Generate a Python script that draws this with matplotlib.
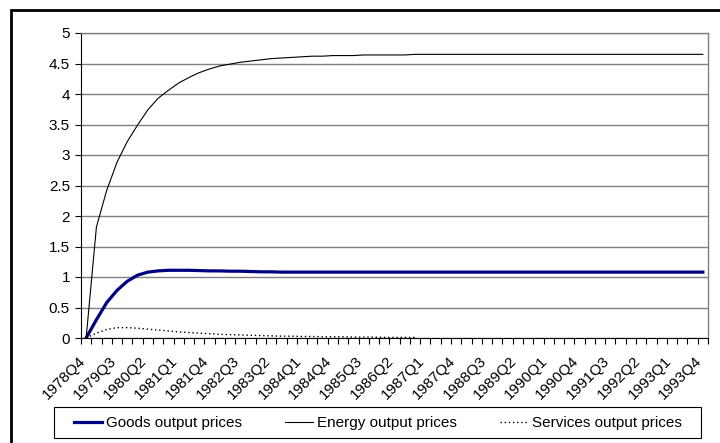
import matplotlib
matplotlib.use('Agg')
import matplotlib.pyplot as plt
import matplotlib.transforms as mtransforms
import numpy as np
from matplotlib.patches import Rectangle

plt.rcParams['font.family'] = ['Liberation Sans', 'DejaVu Sans']

# quarters 1978Q4 .. 1993Q4
quarters = ['1978Q4'] + [f'{y}Q{q}' for y in range(1979, 1994) for q in range(1, 5)]

goods = [0.0, 0.30, 0.58, 0.78, 0.93, 1.03, 1.08, 1.10, 1.11, 1.11,
         1.11, 1.105, 1.10, 1.10, 1.095, 1.095, 1.09, 1.085, 1.085, 1.08] + [1.08] * 41

energy = [0.0, 1.82, 2.42, 2.88, 3.22, 3.49, 3.74, 3.93, 4.06, 4.18,
          4.27, 4.35, 4.41, 4.46, 4.49, 4.52, 4.54, 4.56, 4.58, 4.59,
          4.60, 4.61, 4.62, 4.62, 4.63, 4.63, 4.63, 4.64, 4.64, 4.64,
          4.64, 4.64, 4.65, 4.65] + [4.65] * 27

services = [0.0, 0.08, 0.14, 0.17, 0.17, 0.16, 0.145, 0.13, 0.115, 0.10,
            0.09, 0.08, 0.07, 0.06, 0.055, 0.05, 0.045, 0.04, 0.035, 0.03,
            0.03, 0.025, 0.025, 0.02, 0.02, 0.02, 0.015, 0.015, 0.015, 0.01,
            0.01, 0.01, 0.01] + [np.nan] * 28

x = np.arange(len(quarters))

fig = plt.figure(figsize=(7.2, 4.43), dpi=100)
ax = fig.add_axes([81/720, 1 - 338/443, 627/720, 305/443])

l1, = ax.plot(x, goods, color='#000080', lw=2.3, label='Goods output prices')
l2, = ax.plot(x, energy, color='black', lw=0.8, label='Energy output prices')
l3, = ax.plot(x, services, color='black', lw=1.0, linestyle=(0, (1, 2)),
              label='Services output prices')

ax.set_xlim(-0.5, len(quarters) - 0.5)
ax.set_ylim(0, 5)
ax.set_yticks(np.arange(0, 5.01, 0.5))
ax.set_yticklabels(['0', '0.5', '1', '1.5', '2', '2.5', '3', '3.5', '4', '4.5', '5'])
ax.yaxis.grid(True, color='#808080', lw=1.0)
ax.set_axisbelow(True)

ax.set_xticks(x[::3])
ax.set_xticklabels(quarters[::3], rotation=45, ha='right', va='center',
                   rotation_mode='anchor', fontsize=11)
ax.set_xticks(np.arange(-0.5, len(quarters), 1), minor=True)
ax.tick_params(axis='x', which='major', length=0, pad=15)
ax.tick_params(axis='x', which='minor', length=4, width=0.8, direction='out')
ax.tick_params(axis='y', length=4, width=0.8, labelsize=11, pad=4)

# nudge the rotated labels a little to the left
shift = mtransforms.ScaledTranslation(-3/100, 0, fig.dpi_scale_trans)
for lab in ax.get_xticklabels():
    lab.set_transform(lab.get_transform() + shift)

for s in ['top', 'right']:
    ax.spines[s].set_color('#808080')
    ax.spines[s].set_linewidth(1.0)
for s in ['left', 'bottom']:
    ax.spines[s].set_color('black')
    ax.spines[s].set_linewidth(0.8)

# legend box drawn separately, entries centred inside it
fig.add_artist(Rectangle((54/720, 1 - 438/443), 647/720, 31/443,
                         transform=fig.transFigure, fill=False,
                         edgecolor='black', lw=0.8))
fig.legend(handles=[l1, l2, l3], loc='center', ncol=3, frameon=False,
           bbox_to_anchor=(378/720, 1 - 423/443), borderaxespad=0,
           fontsize=11, handlelength=1.85, handletextpad=0.26,
           columnspacing=2.8)

# outer chart frame (top and left edges visible)
fig.add_artist(Rectangle((11/720, -0.5), 2.0, 1.5 - 10/443, transform=fig.transFigure,
                         fill=False, edgecolor='black', lw=2, clip_on=False))

fig.savefig('out.png', dpi=100)
